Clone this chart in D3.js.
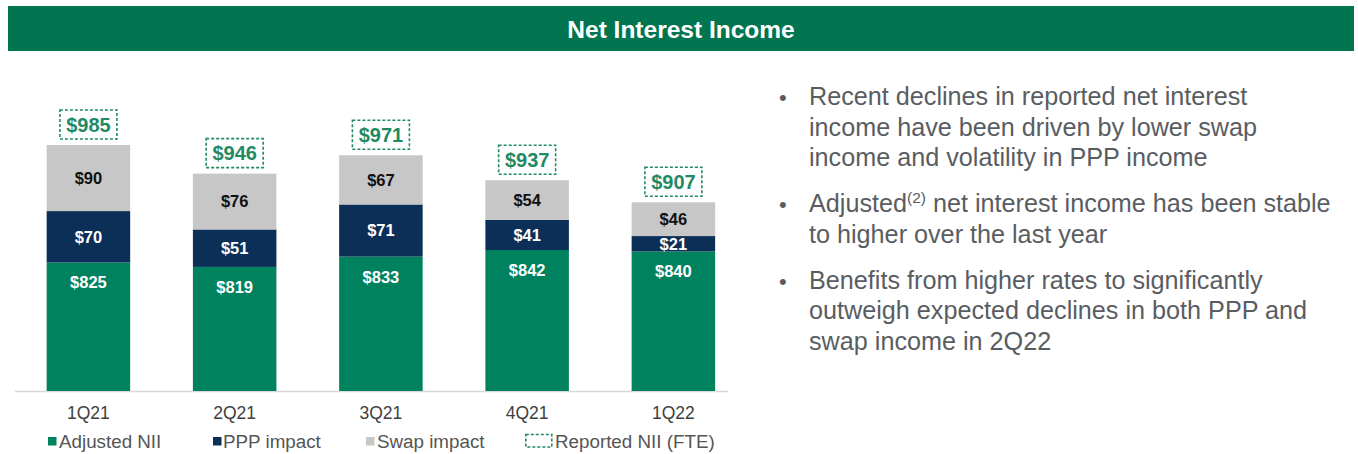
<!DOCTYPE html>
<html><head><meta charset="utf-8">
<script src="https://cdn.jsdelivr.net/npm/d3@7"></script>
<style>
body{margin:0;background:#fff}
svg{display:block}
text{font-family:"Liberation Sans",Arial,Helvetica,sans-serif}
</style>
</head><body>
<svg id="chart" width="1358" height="454"></svg>
<script>
// ---------------- data ----------------
const title = "Net Interest Income";
const quarters = ["1Q21", "2Q21", "3Q21", "4Q21", "1Q22"];
const adjustedNII = [825, 819, 833, 842, 840];
const pppImpact = [70, 51, 71, 41, 21];
const swapImpact = [90, 76, 67, 54, 46];
const reportedNII = [985, 946, 971, 937, 907];
const seriesKeys = ["adjusted", "ppp", "swap"];
const legendLabels = ["Adjusted NII", "PPP impact", "Swap impact", "Reported NII (FTE)"];
const axisFloor = 650; // bars are truncated at the bottom in the original
const bulletLines = [
  ["Recent declines in reported net interest", "income have been driven by lower swap", "income and volatility in PPP income"],
  ["Adjusted|(2)| net interest income has been stable", "to higher over the last year"],
  ["Benefits from higher rates to significantly", "outweigh expected declines in both PPP and", "swap income in 2Q22"]
];

// ---------------- styles ----------------
const colors = { adjusted: "#00825F", ppp: "#0B2F57", swap: "#C7C7C7" };
const labelColors = { adjusted: "#ffffff", ppp: "#ffffff", swap: "#111111" };
const boxGreen = "#1F8A64";

const svg = d3.select("#chart");

// header bar
svg.append("rect").attr("x", 8).attr("y", 6).attr("width", 1346).attr("height", 45).attr("fill", "#00754F");
svg.append("text").attr("x", 681).attr("y", 37.5).attr("text-anchor", "middle")
  .attr("font-size", 24.5).attr("font-weight", "bold").attr("fill", "#fff").text(title);

// table for stacking
const table = quarters.map((q, i) => ({ q, adjusted: adjustedNII[i], ppp: pppImpact[i], swap: swapImpact[i], reported: reportedNII[i] }));
const stacked = d3.stack().keys(seriesKeys)(table);

const x = d3.scaleBand().domain(quarters).range([10.1, 751.7]).paddingInner(0.429).paddingOuter(0.25);
const y = d3.scaleLinear().domain([axisFloor, 985]).range([391, 145]).clamp(true);

// baseline
svg.append("line").attr("x1", 15).attr("x2", 728).attr("y1", 391.5).attr("y2", 391.5)
  .attr("stroke", "#D9D9D9").attr("stroke-width", 1.5);

// bars
const layers = svg.append("g").selectAll("g").data(stacked).join("g").attr("fill", d => colors[d.key]);
layers.selectAll("rect").data(d => d).join("rect")
  .attr("x", d => x(d.data.q))
  .attr("width", x.bandwidth())
  .attr("y", d => y(d[1]))
  .attr("height", d => y(d[0]) - y(d[1]));

// segment labels
stacked.forEach(layer => {
  svg.append("g").selectAll("text").data(layer).join("text")
    .attr("x", d => x(d.data.q) + x.bandwidth() / 2)
    .attr("y", d => layer.key === "adjusted" ? y(d[1]) + 20 : (y(d[0]) + y(d[1])) / 2)
    .attr("dy", "0.36em")
    .attr("text-anchor", "middle")
    .attr("font-size", 16.5).attr("font-weight", "bold")
    .attr("fill", labelColors[layer.key])
    .text(d => "$" + d.data[layer.key]);
});

// reported NII dashed boxes
const boxW = 57, boxH = 29;
const boxes = svg.append("g").selectAll("g").data(table).join("g")
  .attr("transform", d => `translate(${x(d.q) + x.bandwidth() / 2},${y(d.reported) - 6 - boxH / 2})`);
boxes.append("rect").attr("x", -boxW / 2).attr("y", -boxH / 2).attr("width", boxW).attr("height", boxH)
  .attr("fill", "none").attr("stroke", boxGreen).attr("stroke-width", 1.6).attr("stroke-dasharray", "3,2");
boxes.append("text").attr("text-anchor", "middle").attr("dy", "0.36em")
  .attr("font-size", 20).attr("font-weight", "bold").attr("fill", boxGreen)
  .text(d => "$" + d.reported);

// x axis labels
const xAxis = d3.axisBottom(x).tickSize(0).tickPadding(0);
const gx = svg.append("g").attr("transform", "translate(0,407)").call(xAxis);
gx.select(".domain").remove();
gx.selectAll("text").attr("font-size", 17.5).attr("fill", "#404040")
  .attr("font-family", '"Liberation Sans",Arial,sans-serif').attr("dy", "0.71em");

// legend
const legendItems = [
  { label: legendLabels[0], type: "adjusted", mx: 48, tx: 59 },
  { label: legendLabels[1], type: "ppp", mx: 213, tx: 223 },
  { label: legendLabels[2], type: "swap", mx: 366, tx: 377 },
  { label: legendLabels[3], type: "box", mx: 525, tx: 555 }
];
const lg = svg.append("g");
legendItems.forEach(it => {
  if (it.type === "box") {
    lg.append("rect").attr("x", it.mx + 0.8).attr("y", 434.5).attr("width", 26).attr("height", 12.5)
      .attr("fill", "none").attr("stroke", boxGreen).attr("stroke-width", 1.6).attr("stroke-dasharray", "3,2");
  } else {
    lg.append("rect").attr("x", it.mx).attr("y", 437).attr("width", 8.5).attr("height", 8.5).attr("fill", colors[it.type]);
  }
  lg.append("text").attr("x", it.tx).attr("y", 447.5).attr("font-size", 18.8).attr("fill", "#555")
    .text(it.label);
});

// bullets on the right
const lineH = 30.5, paraGap = 15.5;
let by = 105;
const tg = svg.append("g").attr("fill", "#595D62");
bulletLines.forEach(par => {
  tg.append("text").attr("x", 779).attr("y", by).attr("font-size", 22).text("•");
  par.forEach(line => {
    const t = tg.append("text").attr("x", 809).attr("y", by).attr("font-size", 25.2);
    if (line.includes("|")) {
      const parts = line.split("|");
      t.append("tspan").text(parts[0]);
      t.append("tspan").attr("font-size", 15.5).attr("dy", -9).text(parts[1]);
      t.append("tspan").attr("dy", 9).text(parts[2]);
    } else {
      t.text(line);
    }
    by += lineH;
  });
  by += paraGap;
});
</script>
</body></html>
